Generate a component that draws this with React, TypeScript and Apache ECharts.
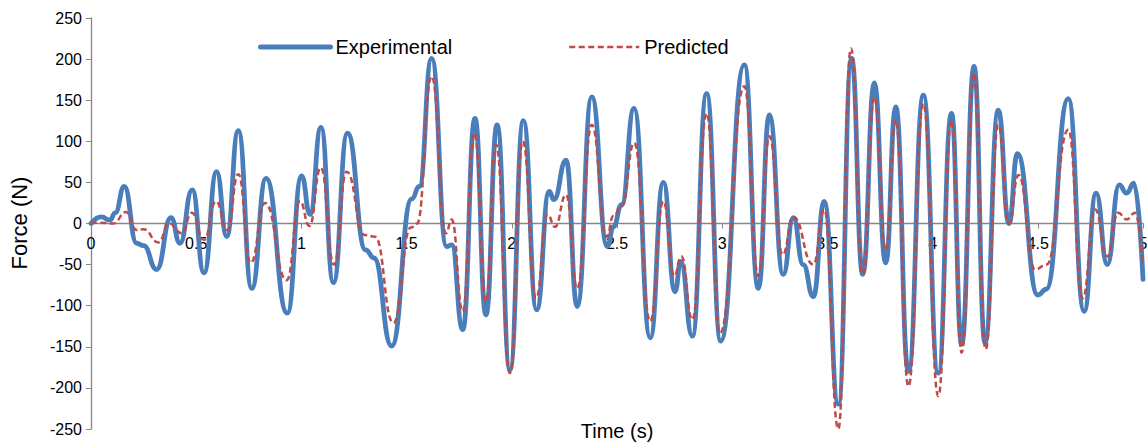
import React, { useEffect, useRef } from "react";
import * as echarts from "echarts";

// Experimental force signal (time s, force N)
const expTime = [
  0.0, 0.05, 0.09, 0.115, 0.158, 0.217, 0.25, 0.312, 0.38, 0.423, 0.481,
  0.537, 0.597, 0.645, 0.7, 0.764, 0.832, 0.933, 1.001, 1.041, 1.093, 1.152,
  1.219, 1.305, 1.345, 1.429, 1.525, 1.56, 1.619, 1.69, 1.714, 1.767, 1.825,
  1.877, 1.93, 1.991, 2.055, 2.118, 2.178, 2.2, 2.258, 2.311, 2.38, 2.454,
  2.483, 2.522, 2.581, 2.658, 2.72, 2.776, 2.803, 2.858, 2.926, 2.993, 3.105,
  3.172, 3.224, 3.29, 3.338, 3.385, 3.433, 3.485, 3.552, 3.615, 3.668, 3.723,
  3.777, 3.825, 3.885, 3.956, 4.027, 4.09, 4.138, 4.197, 4.249, 4.312, 4.363,
  4.403, 4.5, 4.54, 4.645, 4.72, 4.777, 4.83, 4.887, 4.922, 4.957, 5.0,
];
const expForce = [
  0, 8, 4, 13, 45, -24, -27, -56, 7, -24, 41,
  -60, 63, -16, 113, -79, 55, -109, 58, 11, 117, -72,
  110, -32, -42, -149, 30, 45, 201, -28, -26, -129, 128,
  -111, 120, -178, 125, -105, 39, 29, 77, -101, 154, -28,
  -4, 23, 140, -139, 50, -83, -46, -137, 158, -143, 193,
  -79, 132, -62, 7, -50, -89, 27, -220, 201, -62, 171,
  -48, 142, -180, 156, -182, 134, -147, 191, -145, 138, 0,
  85, -87, -80, 152, -107, 37, -50, 47, 37, 49, -68,
];

// Predicted force signal (time s, force N)
const predTime = [
  0.0, 0.045, 0.106, 0.166, 0.217, 0.25, 0.32, 0.372, 0.431, 0.479,
  0.537, 0.594, 0.648, 0.7, 0.759, 0.827, 0.93, 0.993, 1.038, 1.092, 1.155,
  1.215, 1.3, 1.35, 1.437, 1.52, 1.55, 1.619, 1.687, 1.714, 1.767, 1.822,
  1.877, 1.925, 1.991, 2.052, 2.115, 2.17, 2.205, 2.258, 2.311, 2.38, 2.451,
  2.483, 2.522, 2.582, 2.658, 2.72, 2.772, 2.806, 2.858, 2.926, 2.99, 3.105,
  3.172, 3.224, 3.287, 3.338, 3.433, 3.485, 3.552, 3.612, 3.668, 3.723, 3.777,
  3.825, 3.885, 3.956, 4.027, 4.09, 4.138, 4.197, 4.252, 4.312, 4.363, 4.408,
  4.487, 4.542, 4.645, 4.713, 4.772, 4.83, 4.882, 4.922, 4.962, 5.0,
];
const predForce = [
  0, 1, 0, 14, -8, -7, -23, 0, -12, 13,
  -20, 27, -8, 60, -48, 25, -69, 27, -3, 68, -50,
  63, -14, -16, -121, -5, 0, 179, -12, 5, -107, 110,
  -95, 96, -182, 100, -91, 11, -4, 35, -79, 120, -16,
  9, 21, 98, -119, 27, -64, -40, -117, 134, -133, 167,
  -64, 106, -38, 8, -50, 17, -250, 213, -62, 154, -32,
  126, -198, 146, -210, 126, -157, 183, -153, 120, 0, 59,
  -56, -50, 114, -91, 17, -40, 13, 5, 13, -50,
];

const yTicks = { min: -250, max: 250, step: 50 };
const xTicks = { min: 0, max: 5, step: 0.5 };

const FONT = "'Liberation Sans', Arial, sans-serif";
const AXIS_GRAY = "#868686";
const GRID = { left: 91, right: 4, top: 18, bottom: 16 };
const H = 445;

export default function App() {
  const ref = useRef<HTMLDivElement>(null);

  useEffect(() => {
    if (!ref.current) return;
    const chart = echarts.init(ref.current, undefined, { renderer: "svg" });
    const expData = expTime.map((t, i) => [t, expForce[i]]);
    const predData = predTime.map((t, i) => [t, predForce[i]]);
    const plotH = H - GRID.top - GRID.bottom;
    const zeroOffset = -plotH * ((0 - yTicks.min) / (yTicks.max - yTicks.min));

    const legendBase = {
      top: 37,
      padding: 0,
      itemWidth: 70,
      itemHeight: 14,
      itemStyle: { opacity: 0, borderWidth: 0 },
      textStyle: { fontSize: 20, color: "#000", fontFamily: FONT },
    };

    chart.setOption({
      animation: false,
      textStyle: { fontFamily: FONT },
      grid: { ...GRID, containLabel: false, outerBoundsMode: "none" },
      legend: [
        {
          ...legendBase,
          data: ["Experimental"],
          left: 258,
          lineStyle: { width: 5, color: "#4a7ebb" },
        },
        {
          ...legendBase,
          data: ["Predicted"],
          left: 568,
          lineStyle: { width: 2.5, color: "#be4b48", type: [6, 3.5] },
        },
      ],
      xAxis: {
        type: "value",
        min: xTicks.min,
        max: xTicks.max,
        interval: xTicks.step,
        offset: zeroOffset,
        axisLine: { onZero: false, lineStyle: { color: AXIS_GRAY, width: 1.3 } },
        axisTick: { show: true, inside: false, length: 5, lineStyle: { color: AXIS_GRAY } },
        axisLabel: { color: "#000", fontSize: 16, margin: 12, fontFamily: FONT },
        splitLine: { show: false },
      },
      yAxis: {
        type: "value",
        min: yTicks.min,
        max: yTicks.max,
        interval: yTicks.step,
        axisLine: { show: true, lineStyle: { color: AXIS_GRAY, width: 1.3 } },
        axisTick: { show: true, inside: false, length: 5, lineStyle: { color: AXIS_GRAY } },
        axisLabel: { color: "#000", fontSize: 16, margin: 9, fontFamily: FONT },
        splitLine: { show: false },
      },
      graphic: [
        {
          type: "text",
          x: 617,
          y: 431,
          style: {
            text: "Time (s)",
            fontSize: 20,
            fontFamily: FONT,
            fill: "#000",
            textAlign: "center",
            textVerticalAlign: "middle",
          },
        },
        {
          type: "text",
          x: 19,
          y: 223,
          rotation: Math.PI / 2,
          style: {
            text: "Force (N)",
            fontSize: 22,
            fontFamily: FONT,
            fill: "#000",
            textAlign: "center",
            textVerticalAlign: "middle",
          },
        },
      ],
      series: [
        {
          name: "Experimental",
          type: "line",
          data: expData,
          symbol: "none",
          smooth: 0.5,
          smoothMonotone: "x",
          clip: false,
          lineStyle: { color: "#4a7ebb", width: 4.8, cap: "round", join: "round" },
          itemStyle: { color: "#4a7ebb" },
          z: 2,
        },
        {
          name: "Predicted",
          type: "line",
          data: predData,
          symbol: "none",
          smooth: 0.5,
          smoothMonotone: "x",
          clip: false,
          lineStyle: { color: "#be4b48", width: 2.5, type: [6, 3.5] },
          itemStyle: { color: "#be4b48" },
          z: 3,
        },
      ],
    });
    return () => chart.dispose();
  }, []);

  return (
    <div
      ref={ref}
      style={{ position: "absolute", left: 0, top: 0, width: 1147, height: 445, background: "#fff" }}
    />
  );
}
